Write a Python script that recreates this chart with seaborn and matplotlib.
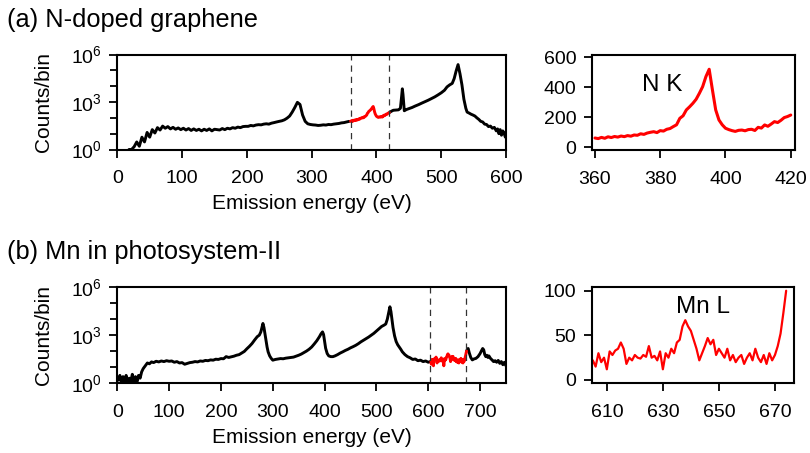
import numpy as np
import matplotlib
matplotlib.use('Agg')
import matplotlib.pyplot as plt
import seaborn as sns

# ---- (a) N-doped graphene : survey spectrum (counts per bin) ----
a_low_energy = np.arange(18, 359, 4)
a_low_counts = [1.0, 1.0, 1.5, 3.0, 1.6, 6.0, 3.0, 12, 6, 18,
                11, 24, 17, 30, 22, 28, 20, 25, 19, 23,
                18, 22, 17, 21, 16, 20, 16, 19, 15, 19,
                16, 20, 15, 19, 18, 17, 21, 18, 22, 20,
                24, 22, 26, 24, 28, 29, 29, 33, 31, 35,
                37, 36, 40, 42, 40, 46, 50, 55, 60, 65,
                75, 95, 130, 230, 450, 950, 700, 150, 60, 42,
                38, 36, 35, 33, 34, 36, 35, 38, 37, 40,
                42, 44, 48, 50, 55, 60]

a_high_energy = [420, 423, 426, 430, 434, 437, 439, 440, 441, 443,
                 446, 450, 455, 460, 465, 470, 475, 480, 485, 490,
                 495, 500, 505, 509, 513, 517, 520, 523, 526, 529,
                 532, 535, 538, 540, 543, 546, 549, 552, 555, 558,
                 561, 564, 567, 570, 573, 576, 579, 582, 585, 587,
                 589, 591, 593, 595, 597, 599, 600]
a_high_counts = [215, 260, 300, 310, 320, 400, 2500, 6800, 3000, 280,
                 330, 380, 450, 560, 680, 850, 1050, 1300, 1650, 2100,
                 2800, 3800, 5500, 9000, 12000, 15000, 30000, 90000, 230000, 60000,
                 12000, 1500, 400, 230, 200, 170, 150, 130, 100, 80,
                 60, 55, 40, 38, 28, 30, 22, 25, 15, 20,
                 10, 18, 8, 15, 11, 6, 12]

# N K edge window (360-420 eV)
nk_energy = np.arange(360, 421)
nk_counts = [62, 58, 66, 60, 70, 65, 72, 68, 75, 71,
             78, 74, 82, 80, 90, 86, 95, 100, 104, 98,
             111, 108, 120, 125, 138, 150, 193, 210, 249, 270,
             293, 320, 360, 404, 471, 520, 382, 249, 182, 150,
             127, 118, 111, 106, 113, 115, 110, 118, 120, 112,
             133, 128, 149, 140, 155, 171, 165, 180, 198, 205,
             215]

# ---- (b) Mn in photosystem-II ----
b_low_energy = [2, 5, 8, 11, 14, 17, 20, 23, 26, 29,
                32, 35, 38, 41, 44, 47, 50, 54, 58, 62,
                66, 70, 75, 80, 85, 90, 95, 100, 105, 110,
                115, 120, 125, 130, 135, 140, 145, 150, 155, 160,
                165, 170, 175, 180, 185, 190, 195, 200, 205, 210,
                215, 220, 225, 230, 235, 240, 245, 250, 255, 260,
                265, 270, 274, 277, 279, 281, 283, 285, 287, 289,
                291, 294, 297, 300, 305, 310, 315, 320, 325, 330,
                335, 340, 345, 350, 355, 360, 365, 370, 375, 380,
                385, 390, 393, 396, 398, 400, 402, 405, 408, 412,
                416, 420, 425, 430, 435, 440, 445, 450, 455, 460,
                465, 470, 475, 480, 485, 490, 495, 500, 505, 510,
                515, 518, 521, 524, 526, 528, 530, 532, 535, 538,
                541, 544, 547, 550, 555, 560, 565, 570, 575, 580,
                585, 590, 595, 600, 604]
b_low_counts = [1.5, 3, 1, 2.5, 1.2, 3, 1, 2, 1.3, 3.5,
                1, 2.5, 1.2, 3, 2, 5, 8, 12, 18, 16,
                21, 19, 23, 21, 24, 22, 25, 23, 24, 20,
                22, 18, 19, 15, 17, 19, 20, 22, 21, 24,
                23, 26, 25, 28, 27, 31, 30, 34, 33, 45,
                40, 44, 48, 55, 60, 75, 95, 140, 200, 300,
                500, 800, 1000, 1600, 3000, 5400, 3000, 1200, 500, 180,
                90, 50, 35, 27, 30, 32, 34, 33, 36, 38,
                40, 42, 48, 55, 65, 80, 100, 130, 180, 280,
                450, 800, 1200, 1600, 1100, 400, 150, 70, 50, 45,
                45, 50, 60, 75, 90, 110, 130, 160, 190, 230,
                290, 380, 480, 600, 760, 1000, 1300, 1800, 2500, 3500,
                4300, 5000, 10000, 30000, 60000, 30000, 9000, 3000, 900, 400,
                250, 180, 130, 90, 60, 45, 38, 30, 32, 25,
                27, 22, 24, 20, 22]

b_high_energy = [674, 675, 676, 677, 679, 682, 685, 688, 692, 696,
                 700, 703, 705, 707, 709, 711, 713, 715, 717, 720,
                 723, 726, 729, 732, 735, 738, 741, 744, 747, 750]
b_high_counts = [100, 120, 140, 145, 80, 40, 28, 32, 35, 45,
                 70, 110, 145, 120, 60, 45, 55, 40, 50, 35,
                 28, 22, 25, 20, 26, 17, 22, 14, 20, 12]

# Mn L edge window (605-674 eV)
mn_energy = np.arange(605, 675)
mn_counts = [22, 15, 30, 20, 25, 12, 32, 28, 33, 35,
             42, 35, 18, 25, 22, 28, 25, 24, 28, 26,
             38, 25, 27, 22, 32, 12, 30, 25, 35, 30,
             42, 45, 60, 67, 60, 55, 45, 35, 22, 30,
             38, 47, 40, 45, 28, 35, 30, 25, 35, 22,
             28, 20, 25, 28, 18, 25, 30, 22, 35, 25,
             20, 28, 18, 30, 22, 28, 38, 52, 75, 100]

sns.set_theme(style='ticks')
plt.rcParams['font.family'] = ['Liberation Sans', 'DejaVu Sans']
plt.rcParams['mathtext.default'] = 'regular'
plt.rcParams['text.color'] = 'black'
plt.rcParams['axes.labelcolor'] = 'black'
plt.rcParams['xtick.color'] = 'black'
plt.rcParams['ytick.color'] = 'black'

fig = plt.figure(figsize=(8.1, 4.53), dpi=100)
W, H = 810, 453


def box(x0, y0, x1, y1):
    return fig.add_axes([x0 / W, 1 - y1 / H, (x1 - x0) / W, (y1 - y0) / H])


def style(ax):
    for s in ax.spines.values():
        s.set_linewidth(1.5)
        s.set_color('black')
    ax.tick_params(which='both', direction='out', width=1.3, color='black',
                   labelcolor='black', labelsize=14)
    ax.tick_params(axis='x', pad=9)
    ax.tick_params(axis='y', pad=5)
    ax.tick_params(which='major', length=6)
    ax.tick_params(which='minor', length=5)


def survey(ax, xmax, xticks, segs, window):
    for x, y, c in segs:
        sns.lineplot(x=x, y=y, ax=ax, color=c, lw=2.1, sort=False, estimator=None)
    for v in window:
        ax.axvline(v, color='#333333', lw=0.9, dashes=(5, 4))
    ax.set_yscale('log')
    ax.set_ylim(1, 1e6)
    ax.set_xlim(0, xmax)
    ax.set_yticks([1, 1e3, 1e6], labels=[r'$10^{0}$', r'$10^{3}$', r'$10^{6}$'])
    ax.set_yticks([10, 100, 1e4, 1e5], minor=True)
    ax.yaxis.set_minor_formatter(plt.NullFormatter())
    ax.set_xticks(xticks)
    ax.set_xlabel('Emission energy (eV)', fontsize=15, labelpad=5)
    ax.set_ylabel('Counts/bin', fontsize=15, labelpad=13)
    style(ax)


# (a)
ax1 = box(117.3, 54.5, 506, 149.5)
survey(ax1, 600, [0, 100, 200, 300, 400, 500, 600],
       [(a_low_energy, a_low_counts, 'black'),
        (a_high_energy, a_high_counts, 'black'),
        (nk_energy, nk_counts, 'red')], [360, 420])

ax2 = box(591.7, 55, 795, 150)
sns.lineplot(x=nk_energy, y=nk_counts, ax=ax2, color='red', lw=2.2)
ax2.set_xlim(359, 421.3)
ax2.set_ylim(-18, 615)
ax2.set_xticks([360, 380, 400, 420])
ax2.set_yticks([0, 200, 400, 600])
ax2.set_xlabel('')
ax2.set_ylabel('')
ax2.text(380.5, 415, 'N K', fontsize=17.5, ha='center', va='center')
style(ax2)

# (b)
ax3 = box(117.3, 287.3, 506, 383)
survey(ax3, 750, [0, 100, 200, 300, 400, 500, 600, 700],
       [(b_low_energy, b_low_counts, 'black'),
        (b_high_energy, b_high_counts, 'black'),
        (mn_energy, mn_counts, 'red')], [604, 673])

ax4 = box(591.7, 286.7, 794, 383.3)
sns.lineplot(x=mn_energy, y=mn_counts, ax=ax4, color='red', lw=1.6)
ax4.set_xlim(604.6, 676.8)
ax4.set_ylim(-3.7, 104.5)
ax4.set_xticks([610, 630, 650, 670])
ax4.set_yticks([0, 50, 100])
ax4.set_xlabel('')
ax4.set_ylabel('')
ax4.text(644.2, 82, 'Mn L', fontsize=17.5, ha='center', va='center')
style(ax4)

fig.text(7 / W, 1 - 20 / H, '(a) N-doped graphene', fontsize=18.3, va='center')
fig.text(7 / W, 1 - 252 / H, '(b) Mn in photosystem-II', fontsize=18.3, va='center')

fig.savefig('out.png', dpi=100)
